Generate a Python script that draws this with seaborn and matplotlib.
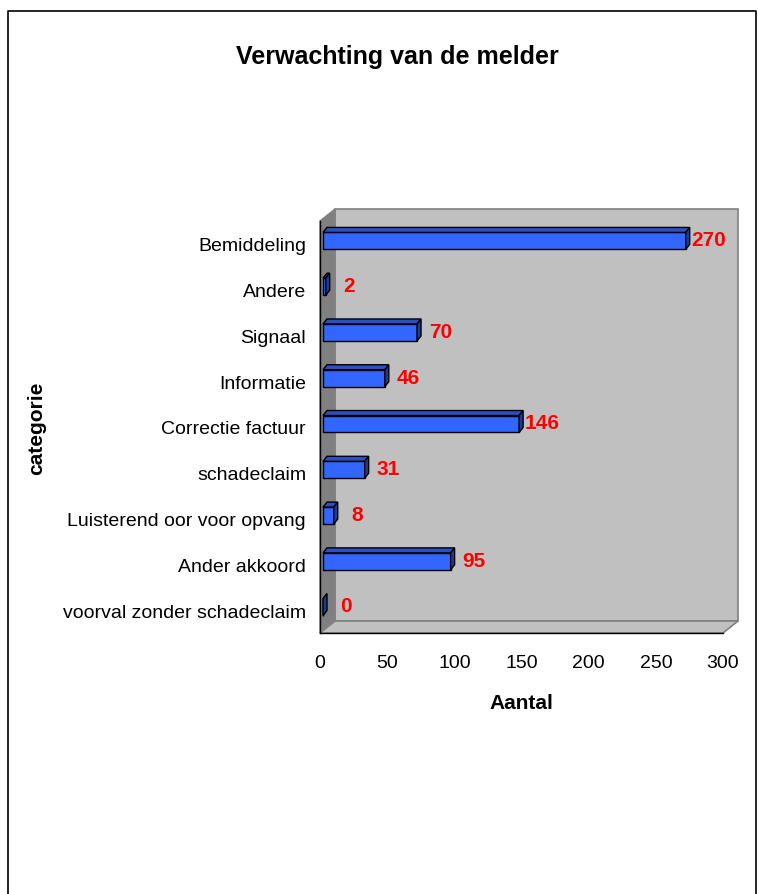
import matplotlib
matplotlib.use("Agg")
import matplotlib.pyplot as plt
from matplotlib.patches import Polygon, Rectangle
from matplotlib.lines import Line2D
import seaborn as sns
import numpy as np
import pandas as pd

# data
categorieen = ["Bemiddeling", "Andere", "Signaal", "Informatie", "Correctie factuur",
               "schadeclaim", "Luisterend oor voor opvang", "Ander akkoord",
               "voorval zonder schadeclaim"]
aantallen = [270, 2, 70, 46, 146, 31, 8, 95, 0]
x_ticks = [0, 50, 100, 150, 200, 250, 300]

df = pd.DataFrame({"categorie": categorieen, "Aantal": aantallen})

sns.set_style("white")
plt.rcParams['font.family'] = ['Liberation Sans', 'DejaVu Sans']
plt.rcParams['text.color'] = 'black'
plt.rcParams['axes.labelcolor'] = 'black'
plt.rcParams['xtick.color'] = 'black'
plt.rcParams['ytick.color'] = 'black'

W, H = 768, 895
fig = plt.figure(figsize=(W / 100, H / 100), dpi=100)
# plot area in pixels: x 320..723, y 222..634
ax = fig.add_axes([320 / W, 1 - 634 / H, 403 / W, 412 / H])
ax.set_facecolor("none")

XMAX = 300
n = len(categorieen)
ux = XMAX / 403.0   # data units per pixel
uy = n / 412.0

# 3D walls
DX, DY = 15 * ux, 12 * uy
back = Rectangle((DX, -0.5 - DY), XMAX, n, facecolor="#c0c0c0",
                 edgecolor="#808080", lw=1.2, zorder=0, clip_on=False)
left = Polygon([(0, -0.5), (DX, -0.5 - DY), (DX, n - 0.5 - DY), (0, n - 0.5)],
               closed=True, facecolor="#808080", edgecolor="#808080", zorder=0.5, clip_on=False)
floor = Polygon([(0, n - 0.5), (XMAX, n - 0.5), (XMAX + DX, n - 0.5 - DY), (DX, n - 0.5 - DY)],
                closed=True, facecolor="#c0c0c0", edgecolor="#808080", lw=1.2, zorder=0.5, clip_on=False)
for p in (back, left, floor):
    ax.add_patch(p)

sns.barplot(data=df, y="categorie", x="Aantal", orient="h", width=0.37,
            color="#3366ff", saturation=1, edgecolor="black", linewidth=1, ax=ax)

# shift bars slightly into depth and add top / side faces
sx, sy = 3 * ux, 3 * uy
bx, by = 4 * ux, 5 * uy
for bar in list(ax.patches):
    if bar in (back, left, floor):
        continue
    x0, y0 = bar.get_x(), bar.get_y()
    w, h = bar.get_width(), bar.get_height()
    x0 += sx
    y0 -= sy
    bar.set_x(x0)
    bar.set_y(y0)
    bar.set_zorder(3)
    x1 = x0 + w
    top = Polygon([(x0, y0), (x1, y0), (x1 + bx, y0 - by), (x0 + bx, y0 - by)],
                  closed=True, facecolor="#2b4fc4", edgecolor="black", lw=1, zorder=3, clip_on=False)
    side = Polygon([(x1, y0), (x1 + bx, y0 - by), (x1 + bx, y0 + h - by), (x1, y0 + h)],
                   closed=True, facecolor="#1f3a8f", edgecolor="black", lw=1, zorder=3, clip_on=False)
    ax.add_patch(top)
    ax.add_patch(side)

# value labels
for i, v in enumerate(aantallen):
    ax.annotate(str(v), (v, i), xytext=(19, 3), textcoords="offset points",
                ha="center", va="center", color="#ff0000", fontsize=15,
                fontweight="bold", zorder=5, annotation_clip=False)

ax.set_xlim(0, XMAX)
ax.set_ylim(n - 0.5, -0.5)
ax.set_xticks(x_ticks)
ax.set_xticklabels([str(t) for t in x_ticks], fontsize=14)
ax.set_yticks(range(n))
ax.set_yticklabels(categorieen, fontsize=14)
ax.set_yticks(np.arange(-0.5, n, 1), minor=True)
ax.tick_params(axis="y", which="major", length=0, pad=10)
ax.tick_params(axis="y", which="minor", length=9, width=1, color="black", direction="out")
ax.tick_params(axis="x", length=6, width=1, color="black", direction="out", pad=9)

for s in ("top", "right"):
    ax.spines[s].set_visible(False)
for s in ("left", "bottom"):
    ax.spines[s].set_color("black")
    ax.spines[s].set_linewidth(1)
    ax.spines[s].set_zorder(4)

ax.set_xlabel("Aantal", fontsize=15, fontweight="bold")
ax.set_ylabel("categorie", fontsize=15, fontweight="bold")
ax.xaxis.set_label_coords((521 - 320) / 403, -(694 - 634) / 412)
ax.yaxis.set_label_coords((46 - 320) / 403, 0.5)

fig.text(397 / W, 1 - 57 / H, "Verwachting van de melder", ha="center", va="center",
         fontsize=18, fontweight="bold")

# chart area border
fig.add_artist(Line2D([8 / W, 8 / W, 756 / W, 756 / W], [0, 1 - 12 / H, 1 - 12 / H, 0],
                      transform=fig.transFigure, color="black", lw=1.2))

fig.savefig("out.png", dpi=100)
